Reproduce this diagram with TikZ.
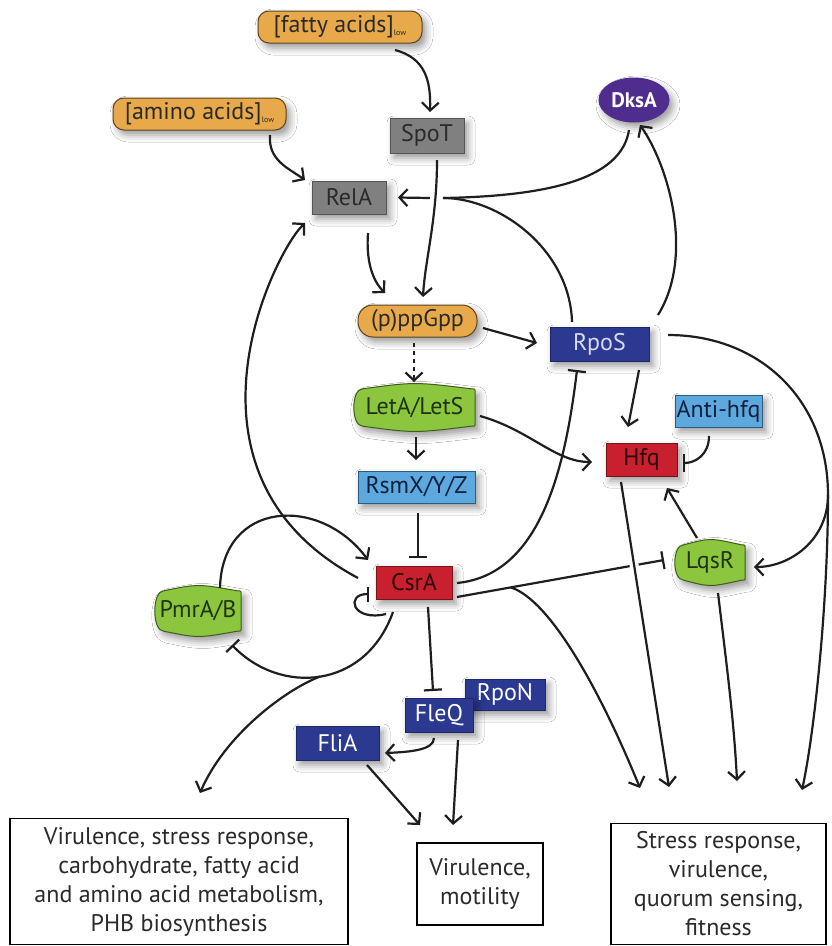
\documentclass[tikz,border=0pt]{standalone}
\usepackage{fontspec}
\setmainfont{PT Sans}
\usetikzlibrary{arrows.meta,calc,shadows.blur,shapes.geometric}
\pgfdeclarelayer{background}
\pgfsetlayers{background,main}
\definecolor{orangef}{HTML}{E8A94A}
\definecolor{orangeb}{HTML}{5B4321}
\definecolor{greyf}{HTML}{808080}
\definecolor{greyb}{HTML}{555555}
\definecolor{greenf}{HTML}{8CC63F}
\definecolor{greenb}{HTML}{3F5E1E}
\definecolor{greent}{HTML}{1F3310}
\definecolor{lblue}{HTML}{5DA8DC}
\definecolor{lblueb}{HTML}{2E5A80}
\definecolor{lbluet}{HTML}{102040}
\definecolor{redf}{HTML}{C8202E}
\definecolor{redb}{HTML}{7A1218}
\definecolor{redt}{HTML}{2A0A0A}
\definecolor{navy}{HTML}{2B3990}
\definecolor{navyb}{HTML}{1E2868}
\definecolor{purp}{HTML}{4F2D8F}
\definecolor{rposfont}{HTML}{D8DAF0}
\definecolor{linec}{HTML}{1E1E1E}
\definecolor{txt}{HTML}{2A2A2A}
\newcommand\lowsub{{\fontsize{8}{8}\selectfont\raisebox{-3pt}{low}}}
\tikzset{
 shad/.style={blur shadow={shadow xshift=4pt,shadow yshift=-5pt,shadow blur radius=7pt,shadow opacity=40}},
 base/.style={inner sep=0pt, font=\fontsize{24}{26}\selectfont, text=txt, line width=1pt, shad},
 orangebox/.style={base, rectangle, rounded corners=11pt, fill=orangef, draw=orangeb},
 greybox/.style={base, rectangle, fill=greyf, draw=greyb},
 bluebox/.style={base, rectangle, fill=lblue, draw=lblueb, text=lbluet},
 redbox/.style={base, rectangle, fill=redf, draw=redb, text=redt},
 navybox/.style={base, rectangle, fill=navy, draw=navyb, text=white},
 greennode/.style={inner sep=0pt, font=\fontsize{24}{26}\selectfont, text=greent},
 greenshape/.style={fill=greenf, draw=greenb, line width=1pt, shad},
 outbox/.style={draw=black, line width=1.4pt, fill=white, align=center, text=txt, font=\fontsize{24}{29}\selectfont, inner sep=0pt},
 arr/.style={line width=2.2pt, draw=linec, -{Straight Barb[length=8pt,width=17pt]}},
 inh/.style={line width=2.2pt, draw=linec, -{Bar[width=18pt]}},
 plain/.style={line width=2.2pt, draw=linec},
 halo/.style={line width=9pt, draw=white},
}
\newcommand\greenbg[1]{%
\filldraw[greenshape]
 ([xshift=9pt]#1.north west) .. controls ([yshift=7pt]#1.north) .. ([xshift=-4pt]#1.north east)
 .. controls (#1.north east) .. ([yshift=-4pt]#1.north east)
 -- ([yshift=4pt]#1.south east)
 .. controls (#1.south east) .. ([xshift=-4pt]#1.south east)
 .. controls ([yshift=-7pt]#1.south) .. ([xshift=9pt]#1.south west)
 .. controls ([xshift=-3pt]#1.south west) and ([xshift=-3pt]#1.north west) .. ([xshift=9pt]#1.north west) -- cycle;}
\begin{document}
\begin{tikzpicture}[x=1pt,y=1pt]
\useasboundingbox (0,0) rectangle (831,-946);

% nodes
\node[orangebox, minimum width=164pt, minimum height=32pt] (fatty) at (340,-27) {[fatty acids]\lowsub};
\node[orangebox, minimum width=173pt, minimum height=32pt] (amino) at (199.5,-114) {[amino acids]\lowsub};
\node[greybox, minimum width=74pt, minimum height=35pt] (spot) at (427,-135.5) {SpoT};
\node[greybox, minimum width=74pt, minimum height=33pt] (rela) at (349,-197.5) {RelA};
\node[ellipse, fill=purp, draw=purp, line width=1pt, minimum width=70pt, minimum height=44pt, inner sep=0pt, text=white, font=\bfseries\fontsize{21}{22}\selectfont, shad] (dksa) at (634,-100) {DksA};
\node[orangebox, rounded corners=15pt, minimum width=119pt, minimum height=32pt] (ppgpp) at (417.5,-321) {(p)ppGpp};
\node[navybox, text=rposfont, minimum width=99pt, minimum height=34pt] (rpos) at (599.5,-344) {RpoS};
\node[greennode, minimum width=121pt, minimum height=37pt] (leta) at (414.5,-407.5) {LetA/LetS};
\node[bluebox, minimum width=87pt, minimum height=32pt] (antihfq) at (718.5,-411) {Anti-hfq};
\node[redbox, minimum width=71pt, minimum height=33pt] (hfq) at (641.5,-459.5) {Hfq};
\node[bluebox, minimum width=117pt, minimum height=32pt] (rsmx) at (416.5,-487) {RsmX/Y/Z};
\node[redbox, minimum width=76pt, minimum height=33pt] (csra) at (414,-582.5) {CsrA};
\node[greennode, minimum width=70pt, minimum height=35pt] (lqsr) at (710,-562.5) {LqsR};
\node[greennode, minimum width=86pt, minimum height=40pt] (pmra) at (198,-611) {PmrA/B};
\node[navybox, minimum width=80pt, minimum height=31pt] (rpon) at (505,-694.5) {RpoN};
\node[navybox, minimum width=68pt, minimum height=34pt] (fleq) at (439,-715) {FleQ};
\node[navybox, minimum width=83pt, minimum height=34pt] (flia) at (337.5,-743) {FliA};
\node[outbox, minimum width=338pt, minimum height=126pt] (box1) at (179,-881.5) {Virulence, stress response,\\carbohydrate, fatty acid\\and amino acid metabolism,\\PHB biosynthesis};
\node[outbox, minimum width=126pt, minimum height=82pt] (box2) at (480,-884) {Virulence,\\motility};
\node[outbox, minimum width=215pt, minimum height=121pt] (box3) at (718.5,-884) {Stress response,\\virulence,\\quorum sensing,\\fitness};

\begin{pgfonlayer}{background}
\fill[white] (0,0) rectangle (831,-946);
\greenbg{leta}
\greenbg{lqsr}
\greenbg{pmra}
\end{pgfonlayer}

% junction coordinates
\coordinate (J1) at (430,-198);
\coordinate (J2) at (443,-198);
\coordinate (K) at (828,-495);

% connectors
\draw[arr] ($(fatty)+(55,-23)$) .. controls (425,-58) and (431,-80) .. ($(spot)+(3,23.5)$);
\draw[arr] ($(amino)+(70.5,-21)$) .. controls (268,-160) and (288,-168) .. ($(rela)+(-44,17.5)$);
\draw[arr] ($(spot)+(10,-24.5)$) .. controls (437,-220) and (425,-260) .. ($(ppgpp)+(5.5,24)$);
\draw[arr] ($(rela)+(19,-35.5)$) .. controls (366,-260) and (372,-280) .. ($(ppgpp)+(-32.5,28)$);
\draw[arr] (J1) -- ($(rela)+(49,0)$);
\draw[plain] (J2) .. controls (560,-196) and (622,-175) .. ($(dksa)+(-5,-30)$);
\draw[plain] (J2) .. controls (500,-198) and (570,-250) .. ($(rpos)+(-27.5,22)$);
\draw[arr] ($(rpos)+(58.5,29)$) .. controls (695,-255) and (668,-165) .. ($(dksa)+(6,-25)$);
\draw[arr] ($(ppgpp)+(65.5,-7)$) -- ($(rpos)+(-62.5,1)$);
\draw[arr, dash pattern=on 4pt off 4pt] ($(ppgpp)+(-3.5,-22)$) -- ($(leta)+(-0.5,25.5)$);
\draw[arr] ($(leta)+(1.5,-29.5)$) -- ($(rsmx)+(-0.5,27)$);
\draw[inh] ($(rsmx)+(1.5,-26)$) -- ($(csra)+(4,24.5)$);
\draw[arr] ($(leta)+(65.5,-8.5)$) .. controls (530,-430) and (555,-462) .. ($(hfq)+(-49.5,-2.5)$);
\draw[arr] ($(rpos)+(39.5,-26)$) -- ($(hfq)+(-13.5,32.5)$);
\draw[inh] ($(antihfq)+(-9.5,-25)$) .. controls (709,-455) and (695,-463) .. ($(hfq)+(41.5,-3.5)$);
\draw[inh] ($(csra)+(43,-0.5)$) .. controls (540,-575) and (565,-470) .. ($(rpos)+(-22.5,-26)$);
\draw[inh] ($(csra)+(43,-14.5)$) -- ($(lqsr)+(-46,2.5)$) coordinate[pos=0.26] (brc);
\draw[arr] (brc) .. controls (550,-600) and (600,-690) .. ($(box3)+(-78.5,96)$);
\draw[halo, shorten <=75pt, shorten >=200pt] ($(hfq)+(-20.5,-22.5)$) -- ($(box3)+(-49.5,97)$);
\draw[arr] ($(hfq)+(-20.5,-22.5)$) -- ($(box3)+(-49.5,97)$);
\draw[arr] ($(lqsr)+(-13,24.5)$) -- ($(hfq)+(25.5,-28.5)$);
\draw[arr] ($(lqsr)+(8,-30.5)$) .. controls (726,-660) and (734,-720) .. ($(box3)+(18.5,103)$);
\draw[plain] ($(rpos)+(68.5,9)$) .. controls (760,-335) and (828,-400) .. (K);
\draw[arr] (K) .. controls (828,-540) and (790,-567) .. ($(lqsr)+(44,-4.5)$);
\draw[arr] (K) .. controls (828,-600) and (815,-730) .. ($(box3)+(83.5,94)$);
\draw[arr] ($(csra)+(-56,4.5)$) .. controls (164,-474.5) and (273.5,-253) .. ($(rela)+(-44,-25.5)$);
\draw[arr] ($(pmra)+(22,23)$) .. controls (222,-500) and (320,-495) .. ($(csra)+(-46,22.5)$);
\draw[line width=2.2pt, draw=linec, -{Bar[width=15pt]}] ($(csra)+(-28,-31.5)$) .. controls (352,-622) and (345,-594) .. ($(csra)+(-45,-11.5)$);
\draw[inh] ($(csra)+(-21,-29.5)$) .. controls (365,-690) and (280,-695) .. ($(pmra)+(34,-34)$) coordinate[pos=0.5] (lb);
\draw[arr] (lb) .. controls (285,-690) and (225,-735) .. ($(box1)+(21,88.5)$);
\draw[inh] ($(csra)+(14,-24.5)$) -- ($(fleq)+(-6,24)$);
\draw[arr] ($(fleq)+(-5,-23)$) .. controls (434,-750) and (410,-752) .. ($(flia)+(47.5,-10)$);
\draw[arr] ($(fleq)+(19,-25)$) -- ($(box2)+(-27,59)$);
\draw[arr] ($(flia)+(29.5,-22)$) -- ($(box2)+(-60,59)$);
\end{tikzpicture}
\end{document}
